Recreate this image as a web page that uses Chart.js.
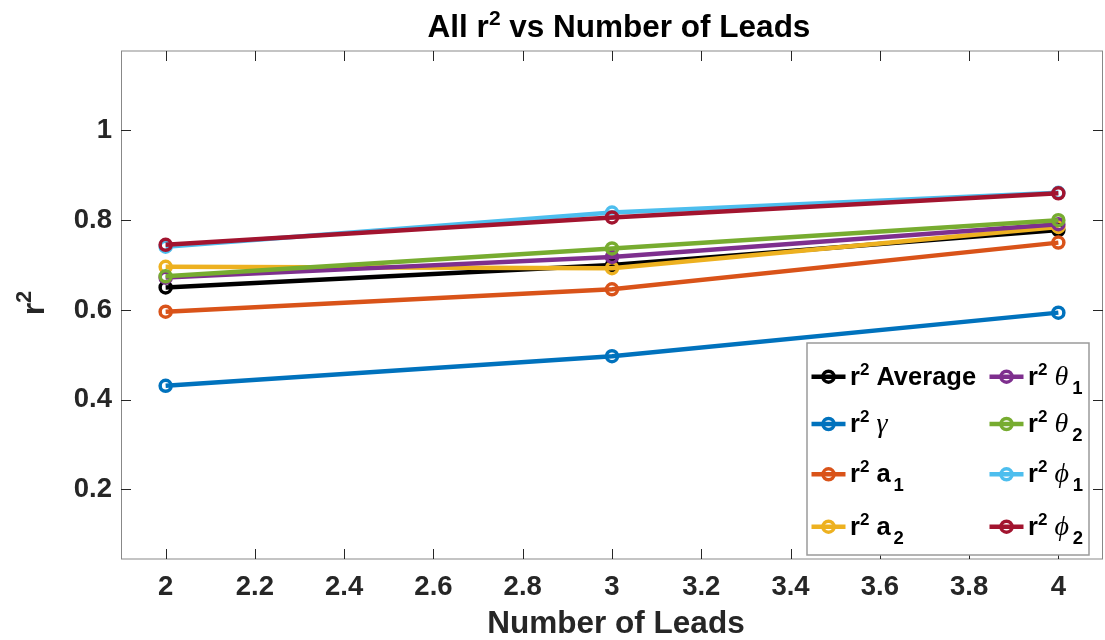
<!DOCTYPE html>
<html>
<head>
<meta charset="utf-8">
<script src="https://cdn.jsdelivr.net/npm/chart.js@4.4.1/dist/chart.umd.min.js"></script>
<style>
  html, body { margin: 0; padding: 0; background: #ffffff; overflow: hidden; width: 1105px; height: 640px; }
  canvas { display: block; }
</style>
</head>
<body>
<canvas id="chart" width="1112" height="640" style="width:1112px;height:640px"></canvas>
<script>
// Number of leads (x) and r^2 per fitted parameter
const leads = [2, 3, 4];
const r2Average = [0.650, 0.700, 0.778];
const r2Gamma   = [0.431, 0.497, 0.594];
const r2A1      = [0.596, 0.646, 0.750];
const r2A2      = [0.696, 0.693, 0.785];
const r2Theta1  = [0.672, 0.718, 0.791];
const r2Theta2  = [0.675, 0.737, 0.800];
const r2Phi1    = [0.741, 0.817, 0.861];
const r2Phi2    = [0.745, 0.806, 0.860];

// Axis tick values
const xTicks = [2, 2.2, 2.4, 2.6, 2.8, 3, 3.2, 3.4, 3.6, 3.8, 4];
const yTicks = [0.2, 0.4, 0.6, 0.8, 1];

// Legend names: "r²" followed by a word or a Greek symbol, with optional subscript
const seriesNames = [
  { word: 'Average' },
  { greek: '\u03B3' },
  { word: 'a', sub: '1' },
  { word: 'a', sub: '2' },
  { greek: '\u03B8', sub: '1' },
  { greek: '\u03B8', sub: '2' },
  { greek: '\u03D5', sub: '1' },
  { greek: '\u03D5', sub: '2' }
];
const seriesValues = [r2Average, r2Gamma, r2A1, r2A2, r2Theta1, r2Theta2, r2Phi1, r2Phi2];
const seriesColors = ['#000000', '#0072BD', '#D95319', '#EDB120', '#7E2F8E', '#77AC30', '#4DBEEE', '#A2142F'];

const SANS = "'Liberation Sans', Arial, Helvetica, sans-serif";
const SERIF = "'Liberation Serif', 'Times New Roman', serif";
const INK = '#262626';

function labelText(n) {
  let s = 'r^2 ' + (n.word || n.greek);
  if (n.sub) s += '_' + n.sub;
  return s;
}

// Draws text runs left to right; each run has its own font and vertical shift
function runsWidth(ctx, runs) {
  let w = 0;
  for (const r of runs) { ctx.font = r.font; w += ctx.measureText(r.text).width + (r.gap || 0); }
  return w;
}
function drawRuns(ctx, runs, x, y) {
  let cx = x;
  for (const r of runs) {
    ctx.font = r.font;
    ctx.fillText(r.text, cx, y + (r.dy || 0));
    cx += ctx.measureText(r.text).width + (r.gap || 0);
  }
  return cx;
}

const decorations = {
  id: 'decorations',
  afterDraw(chart) {
    const ctx = chart.ctx;
    const a = chart.chartArea;
    const xs = chart.scales.x, ys = chart.scales.y;
    ctx.save();

    // axes box
    ctx.strokeStyle = '#c4c4c4';
    ctx.lineWidth = 2;
    ctx.beginPath();
    ctx.moveTo(a.left, a.top); ctx.lineTo(a.right, a.top);
    ctx.moveTo(a.left, a.bottom); ctx.lineTo(a.right, a.bottom);
    ctx.stroke();
    ctx.strokeStyle = '#888888';
    ctx.lineWidth = 1;
    ctx.beginPath();
    ctx.moveTo(a.left + 0.5, a.top); ctx.lineTo(a.left + 0.5, a.bottom);
    ctx.moveTo(a.right - 0.5, a.top); ctx.lineTo(a.right - 0.5, a.bottom);
    ctx.stroke();

    // inward tick marks on all four sides
    const tl = 10;
    ctx.strokeStyle = INK;
    ctx.lineWidth = 1;
    ctx.beginPath();
    for (const v of xTicks) {
      const px = Math.round(xs.getPixelForValue(v)) + 0.5;
      ctx.moveTo(px, a.bottom); ctx.lineTo(px, a.bottom - tl);
      ctx.moveTo(px, a.top); ctx.lineTo(px, a.top + tl);
    }
    for (const v of yTicks) {
      const py = Math.round(ys.getPixelForValue(v)) + 0.5;
      ctx.moveTo(a.left, py); ctx.lineTo(a.left + tl, py);
      ctx.moveTo(a.right, py); ctx.lineTo(a.right - tl, py);
    }
    ctx.stroke();

    // title
    ctx.fillStyle = '#000000';
    ctx.textBaseline = 'alphabetic';
    ctx.textAlign = 'left';
    const titleRuns = [
      { text: 'All r', font: `bold 31.5px ${SANS}` },
      { text: '2', font: `bold 21px ${SANS}`, dy: -12 },
      { text: ' vs Number of Leads', font: `bold 31.5px ${SANS}` }
    ];
    const tw = runsWidth(ctx, titleRuns);
    drawRuns(ctx, titleRuns, 619 - tw / 2, 37);

    // x axis label
    ctx.fillStyle = INK;
    const xRuns = [{ text: 'Number of Leads', font: `bold 31.5px ${SANS}` }];
    const xw = runsWidth(ctx, xRuns);
    drawRuns(ctx, xRuns, 616 - xw / 2, 633);

    // y axis label, rotated
    const yRuns = [
      { text: 'r', font: `bold 32px ${SANS}` },
      { text: '2', font: `bold 22px ${SANS}`, dy: -13 }
    ];
    const yw = runsWidth(ctx, yRuns);
    ctx.save();
    ctx.translate(44, 303);
    ctx.rotate(-Math.PI / 2);
    drawRuns(ctx, yRuns, -yw / 2, 0);
    ctx.restore();

    // legend
    const box = { x: 807, y: 343, w: 282, h: 212 };
    ctx.fillStyle = '#ffffff';
    ctx.fillRect(box.x, box.y, box.w, box.h);
    ctx.strokeStyle = '#9a9a9a';
    ctx.lineWidth = 1.5;
    ctx.strokeRect(box.x, box.y, box.w, box.h);

    const rowY = [376.7, 424, 474.3, 526.7];
    const colX = [811.5, 989.5];
    seriesNames.forEach((n, i) => {
      const col = Math.floor(i / 4), row = i % 4;
      const x0 = colX[col], cy = rowY[row];
      const color = seriesColors[i];
      ctx.strokeStyle = color;
      ctx.lineWidth = 4.5;
      ctx.beginPath();
      ctx.moveTo(x0, cy); ctx.lineTo(x0 + 34, cy);
      ctx.stroke();
      ctx.lineWidth = 3.5;
      ctx.beginPath();
      ctx.arc(x0 + 17, cy, 5.5, 0, Math.PI * 2);
      ctx.stroke();

      const runs = [
        { text: 'r', font: `bold 25.5px ${SANS}` },
        { text: '2', font: `bold 17px ${SANS}`, dy: -10, gap: 7 }
      ];
      if (n.word) runs.push({ text: n.word, font: `bold 25.5px ${SANS}`, gap: n.sub ? 3 : 0 });
      else runs.push({ text: n.greek, font: `italic 28px ${SERIF}`, gap: 4 });
      if (n.sub) runs.push({ text: n.sub, font: `bold 18.5px ${SANS}`, dy: 9 });
      ctx.fillStyle = '#000000';
      drawRuns(ctx, runs, x0 + 38.5, cy + 8);
    });

    ctx.restore();
  }
};

const chart = new Chart(document.getElementById('chart'), {
  type: 'line',
  data: {
    datasets: seriesValues.map((vals, i) => ({
      label: labelText(seriesNames[i]),
      data: leads.map((x, j) => ({ x, y: vals[j] })),
      borderColor: seriesColors[i],
      backgroundColor: seriesColors[i],
      borderWidth: 4.5,
      pointRadius: 5.5,
      pointHoverRadius: 5.5,
      pointBorderWidth: 3.5,
      pointBackgroundColor: 'rgba(0,0,0,0)',
      pointBorderColor: seriesColors[i],
      tension: 0,
      fill: false,
      order: seriesValues.length - i
    }))
  },
  options: {
    responsive: false,
    devicePixelRatio: 1,
    animation: false,
    events: [],
    layout: { padding: { top: 51, right: 3, left: 0, bottom: 0 } },
    plugins: {
      legend: { display: false },
      title: { display: false },
      tooltip: { enabled: false }
    },
    scales: {
      x: {
        type: 'linear',
        min: 1.9,
        max: 4.1,
        afterBuildTicks: s => { s.ticks = xTicks.map(v => ({ value: v })); },
        afterFit: s => { s.height = 81; },
        grid: { display: false, drawTicks: false },
        border: { display: false },
        ticks: {
          autoSkip: false,
          maxRotation: 0,
          padding: 12,
          color: INK,
          font: { family: SANS, size: 27.5, weight: 'bold' },
          callback: v => String(v)
        }
      },
      y: {
        type: 'linear',
        min: 0.045,
        max: 1.177,
        afterBuildTicks: s => { s.ticks = yTicks.map(v => ({ value: v })); },
        afterFit: s => { s.width = 121; },
        grid: { display: false, drawTicks: false },
        border: { display: false },
        ticks: {
          padding: 9,
          color: INK,
          font: { family: SANS, size: 27.5, weight: 'bold' },
          callback: v => String(v)
        }
      }
    }
  },
  plugins: [decorations]
});
</script>
</body>
</html>
